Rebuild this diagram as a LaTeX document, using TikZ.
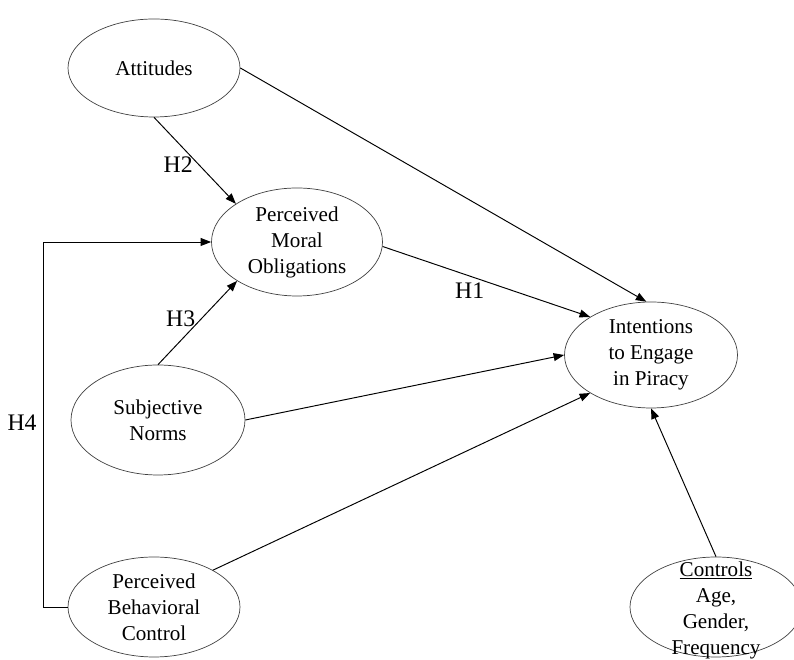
\documentclass[tikz,border=0pt]{standalone}
\usepackage{fontspec}
\setmainfont{Liberation Serif}
\usepackage{tikz}
\usetikzlibrary{shapes.geometric, arrows.meta, positioning}

\begin{document}
\begin{tikzpicture}[>={Triangle[length=6pt, width=4.5pt]},
  construct/.style={ellipse, draw=black!75, inner sep=0pt, minimum width=3.44cm, minimum height=2cm, align=center, font=\fontsize{12}{14.8}\selectfont},
  path/.style={->, line width=0.55pt},
  hyp/.style={font=\fontsize{13.5}{16}\selectfont}]
  \useasboundingbox (0,0) rectangle (15.88,13.2);
  \node[construct, minimum height=1.96cm] (att) at (3.08,11.84) {Attitudes};
  \node[construct, minimum width=3.42cm, minimum height=2.16cm] (pmo) at (5.94,8.36) {Perceived\\Moral\\Obligations};
  \node[construct, minimum width=3.48cm, minimum height=2.2cm] (sn) at (3.16,4.80) {Subjective\\Norms};
  \node[construct] (pbc) at (3.08,1.06) {Perceived\\Behavioral\\Control};
  \node[construct, minimum width=3.46cm, minimum height=2.12cm] (int) at (13.02,6.10) {Intentions\\to Engage\\in Piracy};
  \node[construct] (ctl) at (14.32,1.06) {};
  \node[font=\fontsize{12}{14.8}\selectfont, align=center] (ctltext) at (14.32,1.0) {\underline{Controls}\\Age,\\Gender,\\Frequency};
  \draw[path] (att.east) -- (int.95);
  \draw[path] (att.south) -- node[hyp, left, pos=0.55] (h2) {H2} (pmo.148);
  \draw[path] (pmo.-3) -- node[hyp, below, pos=0.42] (h1) {H1} (int.148);
  \draw[path] (sn.north) -- node[hyp, left, pos=0.55] (h3) {H3} (pmo.213);
  \draw[path] (sn.east) -- (int.west);
  \draw[path] (pbc.32) -- (int.212);
  \draw[path] (ctl.north) -- (int.south);
  % feedback line on the left
  \draw[path] (pbc.west) -- ++(-0.48,0) |- (pmo.west);
  \node[hyp] (h4) at (0.44,4.74) {H4};
\end{tikzpicture}
\end{document}
